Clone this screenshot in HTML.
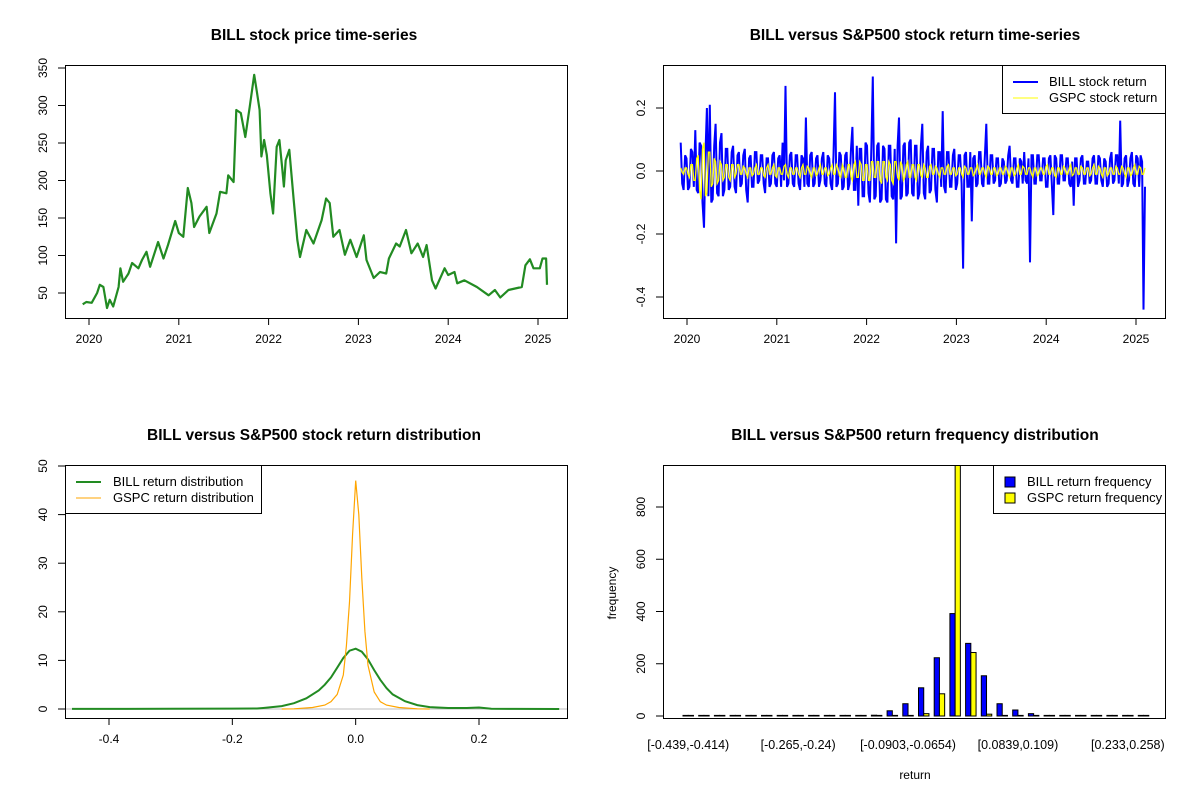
<!DOCTYPE html>
<html><head><meta charset="utf-8"><style>
body{margin:0;background:#fff}
svg{display:block;font-family:"Liberation Sans",Arial,sans-serif}
</style></head><body>
<svg id="c" width="1200" height="800" viewBox="0 0 1200 800"></svg>
<script>
// ---- Panel 1 data: BILL price ----
const priceDates=[2019.93,2019.97,2020.03,2020.09,2020.12,2020.16,2020.20,2020.23,2020.27,2020.33,2020.35,2020.38,2020.44,2020.48,2020.55,2020.59,2020.64,2020.68,2020.77,2020.83,2020.88,2020.96,2021.00,2021.05,2021.10,2021.14,2021.17,2021.23,2021.31,2021.34,2021.42,2021.46,2021.53,2021.55,2021.61,2021.64,2021.69,2021.74,2021.79,2021.84,2021.87,2021.90,2021.92,2021.95,2021.98,2022.02,2022.05,2022.09,2022.12,2022.15,2022.17,2022.19,2022.23,2022.28,2022.32,2022.35,2022.42,2022.50,2022.59,2022.64,2022.68,2022.72,2022.79,2022.85,2022.91,2022.98,2023.06,2023.09,2023.17,2023.24,2023.31,2023.34,2023.42,2023.46,2023.53,2023.59,2023.66,2023.72,2023.76,2023.82,2023.86,2023.96,2024.00,2024.07,2024.10,2024.18,2024.32,2024.45,2024.52,2024.58,2024.67,2024.82,2024.86,2024.91,2024.95,2025.02,2025.05,2025.09,2025.10];
const priceValues=[35,38,37,50,61,58,30,41,32,58,83,65,76,90,83,94,105,85,118,96,114,146,130,125,190,170,138,152,165,130,156,185,183,207,198,294,290,258,298,341,318,294,232,254,234,183,156,245,254,218,192,227,241,174,121,98,134,116,147,176,170,125,134,101,121,98,127,94,70,78,76,96,116,112,134,103,116,98,114,67,56,83,74,78,63,67,58,47,54,44,54,58,87,95,83,83,96,96,61];
const priceTicks=[50,100,150,200,250,300,350];
const yearTicks=[2020,2021,2022,2023,2024,2025];
// ---- Panel 2 data: returns ----
const retStart=2019.93, retEnd=2025.10;
const billReturns=[0.09,-0.04,-0.06,0.05,0.04,-0.06,-0.05,0.07,0.06,-0.05,0.13,-0.06,-0.07,0.09,0.08,-0.1,-0.18,0.06,0.2,-0.08,
0.21,-0.1,-0.09,0.08,0.15,-0.07,-0.08,0.09,0.12,-0.08,-0.06,0.07,0.07,-0.06,-0.05,0.06,0.08,-0.05,-0.07,0.05,
0.06,-0.05,-0.04,0.05,0.07,-0.06,-0.1,0.04,0.05,-0.05,-0.05,0.06,0.06,-0.04,-0.03,0.05,0.05,-0.04,-0.07,0.04,
0.04,-0.05,-0.04,0.05,0.06,-0.04,-0.05,0.04,0.05,-0.05,0.09,-0.03,0.27,-0.05,-0.04,0.05,0.06,-0.04,-0.05,0.05,
0.05,-0.04,-0.06,0.05,0.04,-0.05,0.17,-0.04,-0.05,0.05,0.06,-0.05,-0.04,0.04,0.05,-0.05,-0.03,0.04,0.06,-0.04,
-0.05,0.05,0.04,-0.04,-0.06,0.05,0.25,-0.05,-0.04,0.06,0.05,-0.06,-0.05,0.05,0.06,-0.06,-0.04,0.07,0.14,-0.06,
-0.06,0.08,-0.11,0.07,0.07,-0.08,-0.08,0.09,0.08,-0.07,-0.1,0.08,0.3,-0.09,-0.08,0.08,0.09,-0.1,-0.09,0.08,
0.07,-0.09,-0.1,0.08,0.08,-0.08,-0.09,0.07,-0.23,0.08,0.17,-0.09,-0.08,0.08,0.09,-0.08,-0.07,0.09,0.1,-0.07,
-0.08,0.08,0.08,-0.09,-0.07,0.08,0.15,-0.07,-0.09,0.06,0.08,-0.07,-0.06,0.07,0.07,-0.06,-0.1,0.06,0.06,-0.05,
0.19,-0.05,-0.07,0.06,0.06,-0.05,-0.05,0.05,0.07,-0.06,-0.04,0.05,0.05,-0.04,-0.31,0.05,0.06,-0.05,-0.05,0.06,
-0.16,0.04,0.05,-0.05,-0.04,0.06,0.06,-0.04,-0.05,0.05,0.15,-0.04,-0.04,0.05,0.05,-0.04,-0.03,0.04,0.04,-0.05,
-0.04,0.04,0.03,-0.04,-0.03,0.05,0.08,-0.03,-0.04,0.04,0.04,-0.05,-0.05,0.04,0.03,-0.04,0.06,-0.03,-0.04,0.04,
-0.29,0.05,0.05,-0.04,-0.04,0.05,0.05,-0.03,-0.03,0.04,0.04,-0.05,-0.05,0.04,0.05,-0.04,-0.14,0.05,0.04,-0.04,
-0.04,0.05,0.05,-0.03,-0.03,0.04,0.04,-0.04,-0.05,0.03,-0.11,0.04,0.04,-0.05,-0.03,0.04,0.05,-0.04,-0.04,0.03,
0.03,-0.04,-0.03,0.04,0.05,-0.04,-0.04,0.05,0.04,-0.03,-0.05,0.04,0.03,-0.05,-0.04,0.04,0.06,-0.04,-0.03,0.05,
0.05,-0.04,0.16,-0.05,-0.04,0.04,0.05,-0.05,-0.03,0.04,0.06,-0.04,-0.05,0.05,0.04,-0.05,0.05,0.03,-0.44,-0.05];
const gspcReturns=[0.01,-0.005,-0.01,0.01,0.01,-0.01,-0.02,0.02,0.02,-0.03,-0.03,0.04,0.05,-0.06,-0.09,0.07,0.09,-0.08,-0.07,0.06,
0.06,-0.05,-0.04,0.04,0.03,-0.04,-0.03,0.03,0.02,-0.03,-0.02,0.02,0.02,-0.02,-0.03,0.02,0.02,-0.02,-0.01,0.02,
0.02,-0.01,-0.01,0.015,0.01,-0.01,-0.02,0.01,0.01,-0.015,-0.01,0.01,0.02,-0.01,-0.01,0.01,0.01,-0.015,-0.02,0.01,
0.02,-0.01,-0.01,0.01,0.02,-0.015,-0.02,0.01,0.01,-0.01,-0.01,0.015,0.02,-0.01,-0.02,0.01,0.01,-0.01,-0.01,0.01,
0.01,-0.01,-0.02,0.01,0.02,-0.01,-0.01,0.015,0.01,-0.01,-0.02,0.01,0.01,-0.015,-0.01,0.01,0.02,-0.01,-0.01,0.01,
0.01,-0.015,-0.01,0.01,0.02,-0.01,-0.01,0.02,0.01,-0.015,-0.02,0.02,0.01,-0.02,-0.02,0.02,0.02,-0.02,-0.03,0.02,
0.03,-0.02,-0.02,0.03,0.02,-0.03,-0.03,0.02,0.02,-0.03,-0.03,0.03,0.03,-0.02,-0.02,0.03,0.03,-0.03,-0.04,0.03,
0.03,-0.02,-0.03,0.03,0.02,-0.03,-0.04,0.03,0.03,-0.02,-0.03,0.03,0.02,-0.03,-0.02,0.02,0.03,-0.02,-0.02,0.02,
0.02,-0.02,-0.03,0.02,0.02,-0.015,-0.02,0.02,0.01,-0.02,-0.02,0.015,0.02,-0.01,-0.01,0.015,0.01,-0.01,-0.02,0.01,
0.01,-0.01,-0.01,0.015,0.02,-0.01,-0.01,0.01,0.01,-0.015,-0.01,0.01,0.01,-0.01,-0.02,0.015,0.01,-0.01,-0.01,0.01,
0.01,-0.015,-0.01,0.01,0.02,-0.01,-0.01,0.01,0.01,-0.01,-0.02,0.015,0.01,-0.01,-0.01,0.01,0.01,-0.015,-0.01,0.01,
0.01,-0.01,-0.01,0.015,0.01,-0.01,-0.02,0.01,0.01,-0.015,-0.01,0.01,0.02,-0.01,-0.01,0.015,0.01,-0.01,-0.01,0.01,
0.01,-0.01,-0.02,0.01,0.01,-0.015,-0.01,0.01,0.01,-0.01,-0.01,0.015,0.02,-0.01,-0.01,0.01,0.01,-0.015,-0.02,0.01,
0.01,-0.01,-0.01,0.015,0.01,-0.01,-0.01,0.01,0.02,-0.015,-0.01,0.01,0.01,-0.01,-0.01,0.015,0.01,-0.01,-0.01,0.01,
0.01,-0.015,-0.01,0.01,0.02,-0.01,-0.01,0.015,0.01,-0.01,-0.02,0.01,0.01,-0.015,-0.01,0.01,0.01,-0.01,-0.01,0.015,
0.01,-0.01,-0.01,0.015,0.01,-0.01,-0.02,0.01,0.01,-0.015,-0.01,0.01,0.02,-0.01,-0.01,0.015,0.01,-0.01,-0.01,0.01];
const retTicks=[-0.4,-0.2,0.0,0.2];
// ---- Panel 3 data: densities ----
const billDensX=[-0.46,-0.3,-0.2,-0.16,-0.15,-0.12,-0.1,-0.08,-0.06,-0.05,-0.04,-0.03,-0.02,-0.01,0,0.01,0.02,0.03,0.04,0.05,0.06,0.08,0.1,0.12,0.15,0.18,0.2,0.22,0.26,0.33];
const billDensY=[0.02,0.05,0.08,0.1,0.2,0.6,1.2,2.2,3.8,5,6.5,8.5,10.5,12,12.4,11.8,10.2,8,6,4.3,3,1.6,0.8,0.4,0.2,0.2,0.3,0.05,0.02,0.01];
const gspcDensX=[-0.12,-0.1,-0.07,-0.05,-0.04,-0.03,-0.02,-0.015,-0.01,-0.005,0,0.005,0.01,0.015,0.02,0.03,0.04,0.05,0.07,0.1,0.12];
const gspcDensY=[0,0.05,0.3,0.8,1.5,3,7,13,22,36,47,40,27,16,9,3.5,1.5,0.8,0.3,0.05,0];
const densXTicks=[-0.4,-0.2,0.0,0.2];
const densYTicks=[0,10,20,30,40,50];
// ---- Panel 4 data: histogram ----
const binLabels=["[-0.439,-0.414)","[-0.265,-0.24)","[-0.0903,-0.0654)","[0.0839,0.109)","[0.233,0.258)"];
const labelBins=[0,7,14,21,28];
const billFreq=[2,0,0,0,0,2,0,0,2,0,2,2,3,20,47,108,223,392,278,154,47,23,9,2,2,2,2,0,2,0];
const gspcFreq=[0,0,0,0,0,0,0,0,0,0,0,0,2,2,2,9,85,972,243,7,2,0,0,0,0,0,0,0,0,0];
const freqTicks=[0,200,400,600,800];

const svg=document.getElementById('c');
const NS='http://www.w3.org/2000/svg';
function mk(tag,attrs,parent){const e=document.createElementNS(NS,tag);for(const k in attrs)e.setAttribute(k,attrs[k]);(parent||svg).appendChild(e);return e;}
function txt(x,y,s,size,anchor,rot,bold){const t=mk('text',{x:x,y:y,'font-size':size,'text-anchor':anchor||'middle',fill:'#000'});if(bold)t.setAttribute('font-weight','bold');if(rot)t.setAttribute('transform','rotate(-90 '+x+' '+y+')');t.textContent=s;return t;}
function linScale(d0,d1,r0,r1){return v=>r0+(v-d0)*(r1-r0)/(d1-d0);}
const TS=15.5;

// ---------- Panel 1 ----------
{
const g=mk('g',{});


const X=linScale(2020,2025,89,538), Y=linScale(50,350,293,68);
const t=txt(314,40,'BILL stock price time-series',TS,'middle',false,true);g.appendChild(t);

const pts=priceDates.map((d,i)=>X(d).toFixed(1)+','+Y(priceValues[i]).toFixed(1)).join(' ');
const l=mk('polyline',{points:pts,fill:'none',stroke:'#228B22','stroke-width':2.2,'stroke-linejoin':'round'},g);

mk('rect',{x:65.5,y:65.5,width:502,height:253,fill:'none',stroke:'#000'},g);
yearTicks.forEach(yr=>{const x=X(yr);mk('line',{x1:x,x2:x,y1:318,y2:325,stroke:'#000'},g);g.appendChild(txt(x,343,String(yr),12));});
priceTicks.forEach(p=>{const y=Y(p);mk('line',{x1:65,x2:58,y1:y,y2:y,stroke:'#000'},g);g.appendChild(txt(47,y,String(p),12,'middle',true));});
}
// ---------- Panel 2 ----------
{
const g=mk('g',{});


const X=linScale(2020,2025,687,1136), Y=linScale(-0.2,0.2,234,108);
const t=txt(915,40,'BILL versus S&P500 stock return time-series',TS,'middle',false,true);g.appendChild(t);

const n=billReturns.length;
const d=i=>retStart+i*(retEnd-retStart)/(n-1);
const bp=billReturns.map((v,i)=>X(d(i)).toFixed(1)+','+Y(v).toFixed(1)).join(' ');
const bl=mk('polyline',{points:bp,fill:'none',stroke:'#0000FF','stroke-width':2},g);

const m=gspcReturns.length;
const d2=i=>retStart+i*(retEnd-retStart)/(m-1);
const gp=gspcReturns.map((v,i)=>X(d2(i)).toFixed(1)+','+Y(v).toFixed(1)).join(' ');
const gl=mk('polyline',{points:gp,fill:'none',stroke:'#FFFF00','stroke-width':1.3},g);

mk('rect',{x:663.5,y:65.5,width:502,height:253,fill:'none',stroke:'#000'},g);
yearTicks.forEach(yr=>{const x=X(yr);mk('line',{x1:x,x2:x,y1:318,y2:325,stroke:'#000'},g);g.appendChild(txt(x,343,String(yr),12));});
retTicks.forEach(v=>{const y=Y(v);mk('line',{x1:663,x2:656,y1:y,y2:y,stroke:'#000'},g);g.appendChild(txt(645,y,v.toFixed(1),12,'middle',true));});
const lg=mk('g',{},g);
mk('rect',{x:1002.5,y:65.5,width:163,height:48,fill:'#fff',stroke:'#000'},lg);
mk('line',{x1:1013,x2:1038,y1:82,y2:82,stroke:'#0000FF','stroke-width':2},lg);
mk('line',{x1:1013,x2:1038,y1:98,y2:98,stroke:'#FFFF00','stroke-width':1},lg);
lg.appendChild(txt(1049,86,'BILL stock return',13,'start'));
lg.appendChild(txt(1049,102,'GSPC stock return',13,'start'));
}
// ---------- Panel 3 ----------
{
const g=mk('g',{});


const X=linScale(-0.4,0.2,109,479), Y=linScale(0,50,709,466);
g.appendChild(txt(314,440,'BILL versus S&P500 stock return distribution',TS,'middle',false,true));
mk('line',{x1:65,x2:567,y1:Y(0),y2:Y(0),stroke:'#BEBEBE'},g);
const cp=document.createElementNS(NS,'clipPath');cp.setAttribute('id','cp3');svg.appendChild(cp);mk('rect',{x:65,y:465,width:502,height:253},cp);
const bp=billDensX.map((x,i)=>X(x).toFixed(1)+','+Y(billDensY[i]).toFixed(1)).join(' ');
const bl=mk('polyline',{points:bp,fill:'none',stroke:'#228B22','stroke-width':2,'clip-path':'url(#cp3)'},g);

const gp=gspcDensX.map((x,i)=>X(x).toFixed(1)+','+Y(gspcDensY[i]).toFixed(1)).join(' ');
const gl=mk('polyline',{points:gp,fill:'none',stroke:'#FFA500','stroke-width':1.2},g);

mk('rect',{x:65.5,y:465.5,width:502,height:253,fill:'none',stroke:'#000'},g);
densXTicks.forEach(v=>{const x=X(v);mk('line',{x1:x,x2:x,y1:718,y2:725,stroke:'#000'},g);g.appendChild(txt(x,743,v.toFixed(1),12));});
densYTicks.forEach(v=>{const y=Y(v);mk('line',{x1:65,x2:58,y1:y,y2:y,stroke:'#000'},g);g.appendChild(txt(47,y,String(v),12,'middle',true));});
const lg=mk('g',{},g);
mk('rect',{x:65.5,y:465.5,width:196,height:48,fill:'#fff',stroke:'#000'},lg);
mk('line',{x1:76,x2:101,y1:482,y2:482,stroke:'#228B22','stroke-width':2},lg);
mk('line',{x1:76,x2:101,y1:498,y2:498,stroke:'#FFA500','stroke-width':1},lg);
lg.appendChild(txt(113,486,'BILL return distribution',13,'start'));
lg.appendChild(txt(113,502,'GSPC return distribution',13,'start'));
}
// ---------- Panel 4 ----------
{
const g=mk('g',{});


const Y=linScale(0,800,716,507);
const bx=k=>683+k*15.7, bw=5.23;
g.appendChild(txt(915,440,'BILL versus S&P500 return frequency distribution',TS,'middle',false,true));
const cp=document.createElementNS(NS,'clipPath');cp.setAttribute('id','cp4');svg.appendChild(cp);mk('rect',{x:663,y:465,width:503,height:253},cp);
function bar(x,v,fill){const h=Math.max(Y(0)-Y(v),0.6);return mk('rect',{x:x,y:Y(0)-h,width:bw,height:h,fill:fill,stroke:'#000','stroke-width':1,'clip-path':'url(#cp4)'},g);}
billFreq.forEach((v,k)=>{const r=bar(bx(k),v,'#0000FF');
});
gspcFreq.forEach((v,k)=>{const r=bar(bx(k)+bw,v,'#FFFF00');
});
mk('rect',{x:663.5,y:465.5,width:502,height:253,fill:'none',stroke:'#000'},g);
freqTicks.forEach(v=>{const y=Y(v);mk('line',{x1:663,x2:656,y1:y,y2:y,stroke:'#000'},g);g.appendChild(txt(645,y,String(v),12,'middle',true));});
labelBins.forEach((k,i)=>{g.appendChild(txt(bx(k)+bw,749,binLabels[i],12.5));});
g.appendChild(txt(915,779,'return',12));
g.appendChild(txt(616,593,'frequency',12,'middle',true));
const lg=mk('g',{},g);
mk('rect',{x:993.5,y:465.5,width:172,height:48,fill:'#fff',stroke:'#000'},lg);
mk('rect',{x:1005,y:477,width:10,height:10,fill:'#0000FF',stroke:'#000'},lg);
mk('rect',{x:1005,y:493,width:10,height:10,fill:'#FFFF00',stroke:'#000'},lg);
lg.appendChild(txt(1027,486,'BILL return frequency',13,'start'));
lg.appendChild(txt(1027,502,'GSPC return frequency',13,'start'));
}
</script>
</body></html>
